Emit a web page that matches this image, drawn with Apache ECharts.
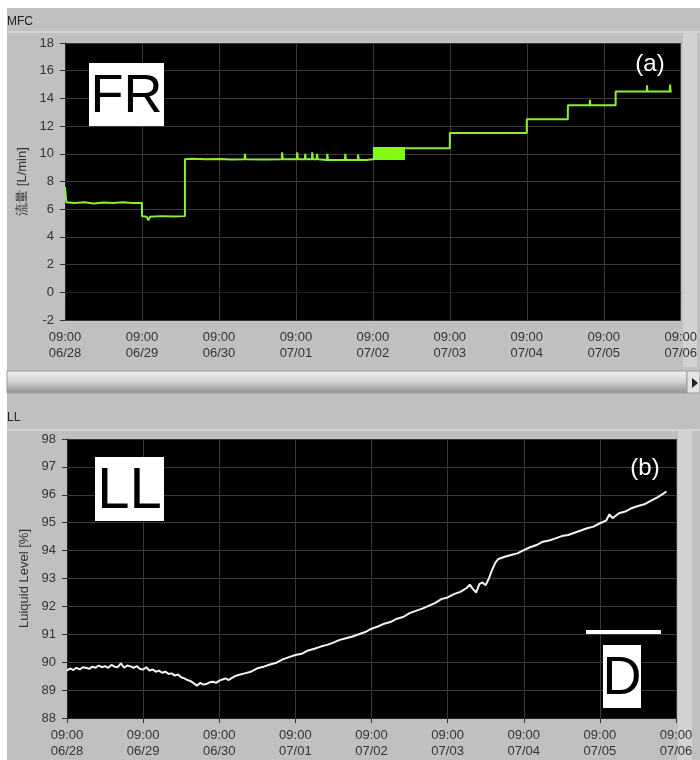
<!DOCTYPE html>
<html><head><meta charset="utf-8">
<script src="https://cdn.jsdelivr.net/npm/echarts@6/dist/echarts.min.js"></script>
<style>html,body{margin:0;padding:0;background:#fff}#c{width:700px;height:760px}</style>
</head><body><div id="c"></div>
<script>
// x positions are hours since 06/28 09:00
const xTickLabels = ['09:00\n06/28','09:00\n06/29','09:00\n06/30','09:00\n07/01','09:00\n07/02','09:00\n07/03','09:00\n07/04','09:00\n07/05','09:00\n07/06'];
const frTitle = 'MFC';
const llTitle = 'LL';
const frAxisName = '流量 [L/min]';
const llAxisName = 'Luiquid Level [%]';

const frHours = [0,0.4,3,6,9,12,15,18,21,24,24,25.5,26,26.5,30,34,37.4,37.4,40,44,48,52,56,56.1,56.3,62,67.6,67.7,67.9,72.3,72.4,72.6,74.8,74.9,75.1,77,77.1,77.3,78.5,78.6,78.8,81.7,81.8,82,87.3,87.4,87.6,91.3,91.4,91.6,94,96,106,110,120,120,126,131,131.1,131.3,138,144,144,150,156.8,156.8,160,163.6,163.7,163.8,171.7,171.7,176,181.4,181.5,181.6,188.6,188.7,188.8,189.2];
const frValues = [7.6,6.5,6.45,6.5,6.42,6.48,6.45,6.5,6.44,6.45,5.5,5.45,5.2,5.45,5.5,5.48,5.5,9.6,9.65,9.6,9.62,9.58,9.6,10.0,9.6,9.58,9.6,10.1,9.6,9.6,10.1,9.6,9.6,10.0,9.6,9.6,10.1,9.6,9.6,10.0,9.6,9.55,10.0,9.55,9.55,10.0,9.55,9.55,9.95,9.55,9.55,9.6,10.4,10.4,10.4,11.5,11.5,11.5,11.4,11.5,11.5,11.5,12.5,12.5,12.5,13.5,13.5,13.5,13.9,13.5,13.5,14.5,14.5,14.5,14.95,14.5,14.5,15.0,14.5,14.5];
const frBandHours = [96,106];
const frBandValues = [9.55,10.5];

const llHours = [0,1,2,3,4,5,6,7,8,9,10,11,12,13,14,15,16,17,18,19,20,21,22,23,24,25,26,27,28,29,30,31,32,33,34,35,36,37,38,39,40,41,42,43,44,45,46,47,48,49,50,51,52,53,54,56,58,60,62,64,66,68,70,72,74,76,78,80,82,84,86,88,90,92,94,96,98,100,102,104,106,108,110,112,114,116,118,120,122,124,126,127,128,129,130,131,132,133,134,135,136,138,140,142,144,146,148,150,152,154,156,158,160,162,164,166,168,170,171,172,174,176,178,180,182,184,186,188,189];
const llValues = [89.70,89.78,89.72,89.80,89.74,89.82,89.80,89.76,89.84,89.80,89.88,89.82,89.86,89.80,89.90,89.84,89.82,89.96,89.80,89.88,89.85,89.80,89.86,89.76,89.74,89.82,89.70,89.74,89.66,89.70,89.62,89.66,89.58,89.60,89.52,89.56,89.46,89.42,89.36,89.32,89.24,89.16,89.26,89.20,89.22,89.28,89.30,89.26,89.34,89.38,89.42,89.36,89.44,89.50,89.54,89.60,89.66,89.78,89.84,89.92,89.98,90.10,90.18,90.26,90.30,90.42,90.48,90.56,90.62,90.70,90.80,90.86,90.92,91.00,91.08,91.20,91.28,91.38,91.44,91.56,91.62,91.76,91.84,91.92,92.02,92.12,92.26,92.32,92.44,92.52,92.66,92.78,92.62,92.50,92.80,92.86,92.76,93.00,93.30,93.56,93.70,93.78,93.84,93.90,94.02,94.12,94.20,94.32,94.36,94.44,94.52,94.56,94.64,94.72,94.80,94.86,94.98,95.08,95.30,95.16,95.34,95.40,95.52,95.60,95.66,95.78,95.90,96.04,96.12];

const frData = frHours.map((h,i)=>[h,frValues[i]]);
const llData = llHours.map((h,i)=>[h,llValues[i]]);

const chart = echarts.init(document.getElementById('c'), null, {renderer:'canvas'});
const FONT = 'Liberation Sans, Arial, sans-serif';
const gridLine = {show:true, lineStyle:{color:'#3a3a3a', width:1}};
function xAxis(gi){
  return {type:'value', gridIndex:gi, min:0, max:192, interval:24,
    axisLine:{show:true, lineStyle:{color:'#222'}},
    axisTick:{show:true, length:5, lineStyle:{color:'#333'}},
    axisLabel:{show:true, margin:9, color:'#333', fontSize:13, lineHeight:16, fontFamily:FONT,
      showMinLabel:true, showMaxLabel:true,
      formatter:(v)=>xTickLabels[Math.round(v/24)]},
    splitLine:gridLine};
}
function yAxis(gi,min,max,interval,name){
  return {type:'value', gridIndex:gi, min, max, interval,
    name, nameLocation:'middle', nameGap:31, nameRotate:90,
    nameTextStyle:{color:'#333', fontSize:13, fontFamily:FONT},
    axisLine:{show:true, lineStyle:{color:'#222'}},
    axisTick:{show:true, length:5, lineStyle:{color:'#333'}},
    axisLabel:{margin:11, color:'#333', fontSize:13, fontFamily:FONT},
    splitLine:gridLine};
}
function txt(text,x,y,font,fill){
  return {type:'text', z:100, style:{text, x, y, font, fill, align:'center', verticalAlign:'middle', textAlign:'center', textVerticalAlign:'middle'}};
}
const option = {
  animation:false,
  backgroundColor:'#c0c0c0',
  grid:[
    {left:65, top:43, width:616, height:277, show:true, backgroundColor:'#000', borderWidth:0},
    {left:67, top:439, width:609, height:279, show:true, backgroundColor:'#000', borderWidth:0}
  ],
  xAxis:[xAxis(0), xAxis(1)],
  yAxis:[yAxis(0,-2,18,2,frAxisName), yAxis(1,88,98,1,llAxisName)],
  series:[
    {type:'line', xAxisIndex:0, yAxisIndex:0, data:frData, showSymbol:false, symbol:'none',
      lineStyle:{color:'#8cf032', width:2},
      markArea:{silent:true, itemStyle:{color:'#80ff10', opacity:1},
        data:[[{xAxis:frBandHours[0], yAxis:frBandValues[0]},{xAxis:frBandHours[1], yAxis:frBandValues[1]}]]}},
    {type:'line', xAxisIndex:1, yAxisIndex:1, data:llData, showSymbol:false, symbol:'none',
      lineStyle:{color:'#f4f4f4', width:2}}
  ],
  graphic:[
    {type:'rect', z:-1, shape:{x:0,y:0,width:700,height:8}, style:{fill:'#fff'}},
    {type:'rect', z:-1, shape:{x:0,y:0,width:7,height:760}, style:{fill:'#fff'}},
    {type:'rect', z:-1, shape:{x:7,y:31,width:693,height:2}, style:{fill:'#d4d4d4'}},
    {type:'rect', z:-1, shape:{x:683,y:33,width:14,height:334}, style:{fill:'#d2d2d2'}},
    {type:'rect', z:-1, shape:{x:7,y:429,width:693,height:2}, style:{fill:'#d4d4d4'}},
    {type:'rect', z:-1, shape:{x:678,y:431,width:14,height:329}, style:{fill:'#d2d2d2'}},
    {type:'rect', z:5, shape:{x:7,y:371,width:680,height:22}, style:{
      fill:new echarts.graphic.LinearGradient(0,0,0,1,[{offset:0,color:'#f2f2f2'},{offset:0.45,color:'#d6d6d6'},{offset:1,color:'#8e8e8e'}]),
      stroke:'#9a9a9a', lineWidth:1}},
    {type:'rect', z:5, shape:{x:687,y:371,width:13,height:22}, style:{fill:'#e4e4e4', stroke:'#9a9a9a', lineWidth:1}},
    {type:'polygon', z:6, shape:{points:[[692,378],[692,388],[698,383]]}, style:{fill:'#222'}},
    {type:'text', z:100, style:{text:frTitle, x:7, y:22, font:'12px '+FONT, fill:'#222', verticalAlign:'middle', textVerticalAlign:'middle'}},
    {type:'text', z:100, style:{text:llTitle, x:7, y:418, font:'12px '+FONT, fill:'#222', verticalAlign:'middle', textVerticalAlign:'middle'}},
    {type:'rect', z:99, shape:{x:89,y:63,width:75,height:63}, style:{fill:'#fff'}},
    txt('FR',126.5,97,'54px '+FONT,'#000'),
    {type:'rect', z:99, shape:{x:95,y:457,width:69,height:64}, style:{fill:'#fff'}},
    txt('LL',129.5,492,'58px '+FONT,'#000'),
    txt('(a)',650,64,'24px '+FONT,'#fff'),
    txt('(b)',645,468,'24px '+FONT,'#fff'),
    {type:'rect', z:99, shape:{x:586,y:630,width:75,height:4}, style:{fill:'#fff'}},
    {type:'rect', z:99, shape:{x:603,y:645,width:38,height:63}, style:{fill:'#fff'}},
    txt('D',622,679,'54px '+FONT,'#000')
  ]
};
chart.setOption(option);
</script></body></html>
